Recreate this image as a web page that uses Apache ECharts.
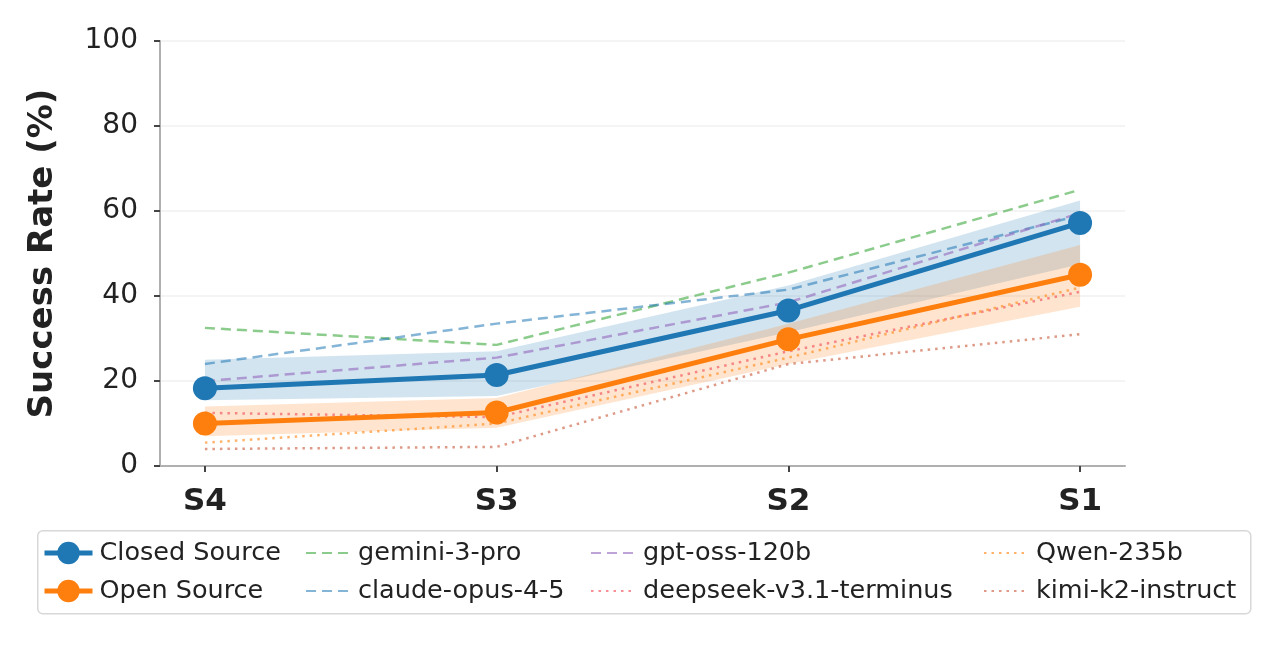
<!DOCTYPE html>
<html>
<head>
<meta charset="utf-8">
<script src="https://cdn.jsdelivr.net/npm/echarts@6/dist/echarts.min.js"></script>
<style>
  html, body { margin: 0; padding: 0; background: #fff; }
  #chart { width: 1280px; height: 646px; }
</style>
</head>
<body>
<div id="chart"></div>
<script>
// stages, left to right
const stages = ['S4', 'S3', 'S2', 'S1'];

// group means and their spread bands (%)
const closedMean = [18.3, 21.4, 36.6, 57.2];
const closedLow = [15.5, 16.5, 31.5, 47.5];
const closedHigh = [25, 27, 42.5, 62.5];
const openMean = [10, 12.6, 29.8, 45];
const openLow = [7, 9, 24, 37.5];
const openHigh = [14, 16, 33.5, 52];

// individual models (%)
const gemini = [32.5, 28.5, 45.5, 65];
const claude = [24, 33.5, 41.5, 59];
const gptOss = [20, 25.5, 38.5, 59.5];
const deepseek = [12.5, 11.5, 27, 41];
const qwen = [5.5, 10, 25.5, 42];
const kimi = [4, 4.5, 24, 31];

const pts = arr => arr.map((v, i) => [i, v]);

function modelLine(name, data, color, type) {
  return {
    name, type: 'line', data: pts(data), symbol: 'none', z: 3,
    lineStyle: { color, width: 2.5, type },
    itemStyle: { color }
  };
}

// shaded spread between lo and hi, one quad per segment
function band(lo, hi, color) {
  return {
    type: 'custom', silent: true, z: 1,
    data: lo.map((v, i) => [i, v, hi[i]]),
    encode: { x: 0, y: [1, 2] },
    renderItem(params, api) {
      const i = params.dataIndex;
      if (i >= lo.length - 1) return null;
      const poly = [
        api.coord([i, lo[i]]), api.coord([i + 1, lo[i + 1]]),
        api.coord([i + 1, hi[i + 1]]), api.coord([i, hi[i]])
      ];
      return { type: 'polygon', shape: { points: poly }, style: { fill: color, opacity: 0.2 } };
    }
  };
}

const chart = echarts.init(document.getElementById('chart'));

const font = 'DejaVu Sans';
const legendText = { fontFamily: font, fontSize: 25.5, color: '#222' };
const noDot = name => ({ name, itemStyle: { opacity: 0 } });
const legendBase = {
  top: 535, orient: 'vertical', itemWidth: 42, itemHeight: 28, itemGap: 12,
  textStyle: legendText
};

const option = {
  backgroundColor: '#fff',
  animation: false,
  grid: { left: 160, right: 155, top: 41, bottom: 180 },
  xAxis: {
    type: 'value',
    min: -0.154, max: 3.154,
    splitLine: { show: false },
    axisLine: { onZero: false, lineStyle: { color: '#b0b0b0', width: 2 } },
    axisTick: { show: true, customValues: [0, 1, 2, 3], length: 6, lineStyle: { color: '#444', width: 2 } },
    axisLabel: {
      customValues: [0, 1, 2, 3],
      formatter: v => stages[Math.round(v)],
      fontFamily: font, fontSize: 31, fontWeight: 'bold', color: '#222', margin: 20
    }
  },
  yAxis: {
    type: 'value',
    min: 0, max: 100, interval: 20,
    name: 'Success Rate (%)',
    nameLocation: 'middle',
    nameGap: 100,
    nameTextStyle: { fontFamily: font, fontSize: 34, fontWeight: 'bold', color: '#222' },
    axisLine: { show: true, onZero: false, lineStyle: { color: '#b0b0b0', width: 2 } },
    axisTick: { show: true, length: 6, lineStyle: { color: '#444', width: 2 } },
    axisLabel: { fontFamily: font, fontSize: 28, color: '#222', margin: 22 },
    splitLine: { lineStyle: { color: '#f0f0f0', width: 1.5 } }
  },
  legend: [
    { ...legendBase, left: 37, itemWidth: 48, textStyle: { ...legendText, padding: [0, 0, 0, 2] },
      data: [
        { name: 'Closed Source', lineStyle: { width: 5 } },
        { name: 'Open Source', lineStyle: { width: 5 } }
      ] },
    { ...legendBase, left: 300, textStyle: { ...legendText, padding: [0, 0, 0, 5] },
      data: [noDot('gemini-3-pro'), noDot('claude-opus-4-5')] },
    { ...legendBase, left: 585, textStyle: { ...legendText, padding: [0, 0, 0, 5] },
      data: [noDot('gpt-oss-120b'), noDot('deepseek-v3.1-terminus')] },
    { ...legendBase, left: 978, textStyle: { ...legendText, padding: [0, 0, 0, 5] },
      data: [noDot('Qwen-235b'), noDot('kimi-k2-instruct')] }
  ],
  graphic: [{
    type: 'rect', left: 37, top: 530, z: -1,
    shape: { width: 1213, height: 83, r: 5 },
    style: { fill: '#fff', stroke: '#d8d8d8', lineWidth: 1.5 }
  }],
  series: [
    band(closedLow, closedHigh, '#1f77b4'),
    band(openLow, openHigh, '#ff7f0e'),
    modelLine('gemini-3-pro', gemini, 'rgba(44,160,44,0.55)', [10, 6]),
    modelLine('claude-opus-4-5', claude, 'rgba(31,119,180,0.55)', [10, 6]),
    modelLine('gpt-oss-120b', gptOss, 'rgba(148,103,189,0.6)', [10, 6]),
    modelLine('deepseek-v3.1-terminus', deepseek, 'rgba(240,70,80,0.6)', [2.5, 5]),
    modelLine('Qwen-235b', qwen, 'rgba(255,140,30,0.65)', [2.5, 5]),
    modelLine('kimi-k2-instruct', kimi, 'rgba(205,100,70,0.65)', [2.5, 5]),
    {
      name: 'Closed Source', type: 'line', data: pts(closedMean), z: 5,
      symbol: 'circle', symbolSize: 24,
      lineStyle: { color: '#1f77b4', width: 5 },
      itemStyle: { color: '#1f77b4' }
    },
    {
      name: 'Open Source', type: 'line', data: pts(openMean), z: 5,
      symbol: 'circle', symbolSize: 24,
      lineStyle: { color: '#ff7f0e', width: 5 },
      itemStyle: { color: '#ff7f0e' }
    }
  ]
};

chart.setOption(option);
</script>
</body>
</html>
